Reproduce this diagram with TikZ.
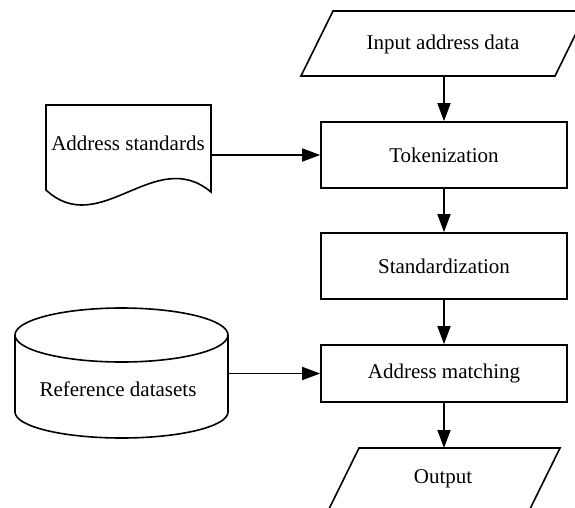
\documentclass[tikz,border=0pt]{standalone}
\usepackage{fontspec}
\setmainfont{Liberation Serif}
\usetikzlibrary{arrows.meta}
\begin{document}
\begin{tikzpicture}[x=1pt,y=-1pt,
  line width=1.6pt,
  every node/.style={font=\fontsize{21}{25}\selectfont},
  procbox/.style={draw, rectangle, minimum width=246pt, minimum height=66pt, inner sep=0pt},
  shapeline/.style={draw, line width=1.6pt, line join=miter},
  flow/.style={-{Triangle[length=18pt,width=13pt]}, line width=1.6pt},
  lbl/.style={inner sep=0pt}]
\useasboundingbox (0,0) rectangle (575,507);
\clip (0,0) rectangle (575,507);
\fill[white] (0,0) rectangle (575,507);

% Input parallelogram
\draw[shapeline] (301,76) -- (555,76) -- (587,11) -- (333,11) -- cycle;
\node[lbl] (inp) at (443,44) {Input address data};
\coordinate (inpB) at (444,76);

% Process boxes
\node[procbox] (tok) at (444,155) {Tokenization};
\node[procbox] (stdz) at (444,266) {Standardization};
\node[procbox, minimum height=57pt] (match) at (444,373.5) {Address matching};

% Output parallelogram
\draw[shapeline] (359,448) -- (560,448) -- (528,513) -- (327,513) -- cycle;
\node[lbl] (out) at (443,479) {Output};
\coordinate (outT) at (444,448);

% Document shape
\draw[shapeline] (46,190) -- (46,105) -- (211,105) -- (211,192)
  .. controls (155,145) and (100,240) .. (46,190) -- cycle;
\node[lbl] (stds) at (128,143) {Address standards};
\coordinate (stdsR) at (211,155);

% Cylinder
\draw[shapeline] (121.5,335) ellipse [x radius=106.5, y radius=27];
\draw[shapeline] (15,335) -- (15,412) arc[start angle=180, end angle=0, x radius=106.5, y radius=26] -- (228,335);
\node[lbl] (refd) at (118,389) {Reference datasets};
\coordinate (refR) at (228,373.5);

% Connectors
\draw[flow] (inpB) -- (tok.north);
\draw[flow] (tok.south) -- (stdz.north);
\draw[flow] (stdz.south) -- (match.north);
\draw[flow] (match.south) -- (outT);
\draw[flow] (stdsR) -- (tok.west);
\draw[flow] (refR) -- (match.west);
\end{tikzpicture}
\end{document}
